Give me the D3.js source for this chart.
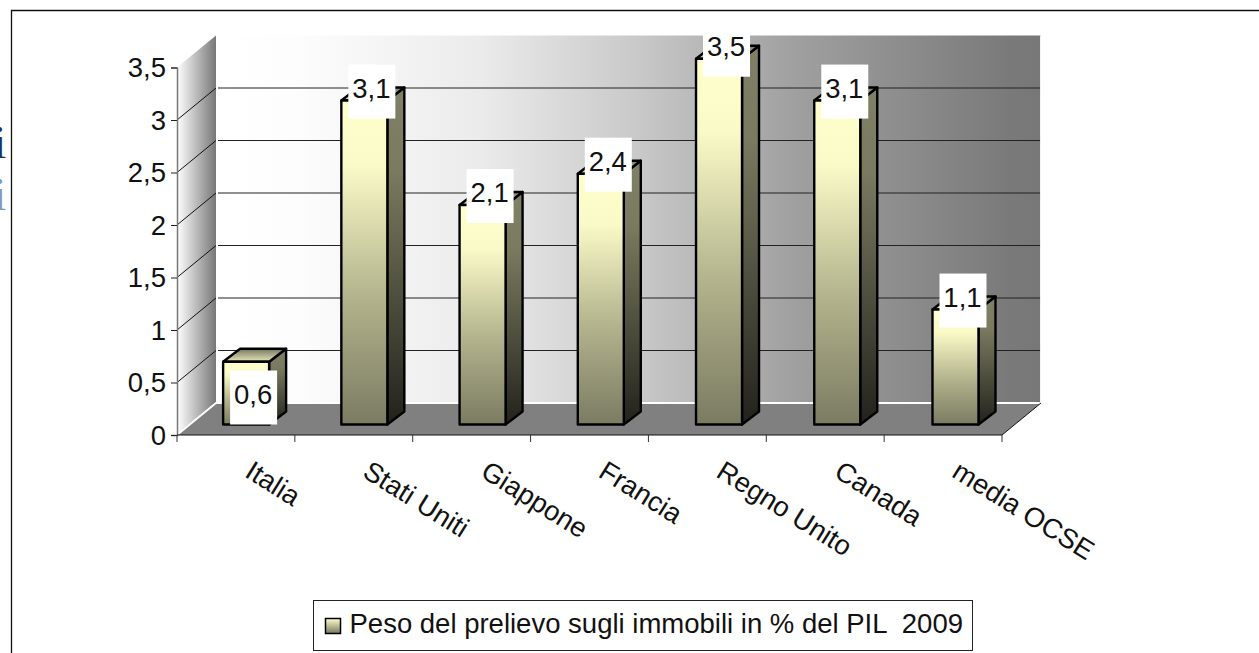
<!DOCTYPE html>
<html>
<head>
<meta charset="utf-8">
<script src="https://cdn.jsdelivr.net/npm/d3@7"></script>
<style>
html, body { margin: 0; padding: 0; background: #fff; overflow: hidden; }
text { font-family: "Liberation Sans", Arial, sans-serif; fill: #111; }
</style>
</head>
<body>
<svg width="1259" height="653" style="display:block"></svg>
<script>
var categories = ["Italia", "Stati Uniti", "Giappone", "Francia", "Regno Unito", "Canada", "media OCSE"];
var values = [0.6, 3.1, 2.1, 2.4, 3.5, 3.1, 1.1];
var yTicks = [0, 0.5, 1, 1.5, 2, 2.5, 3, 3.5];
var legendLabel = "Peso del prelievo sugli immobili in % del PIL  2009";

var svg = d3.select("svg"),
    margin = { top: 67.5, left: 177, bottom: 435, right: 1002 },
    depth = { x: 39, y: 32 },       // wall offset
    barDepth = { x: 17, y: 13 },
    barShift = { y: 10.5 };         // bars stand a bit behind the front edge

var x = d3.scaleBand().domain(categories).range([margin.left, margin.right]),
    xBar = d3.scaleBand().domain(categories).range([margin.left + 10, margin.right + 12.6]),
    y = d3.scaleLinear().domain([0, 3.5]).range([margin.bottom, margin.top]);

var fmt = function (d) { return String(d).replace(".", ","); };

// gradients
var defs = svg.append("defs");
function gradient(id, horizontal, stops) {
    var g = defs.append("linearGradient").attr("id", id)
        .attr("x1", 0).attr("y1", 0)
        .attr("x2", horizontal ? 1 : 0).attr("y2", horizontal ? 0 : 1);
    stops.forEach(function (s) {
        g.append("stop").attr("offset", s[0]).attr("stop-color", s[1]);
    });
}
gradient("wall", true, [[0, "#ffffff"], [0.1, "#fdfdfd"], [0.32, "#ebebeb"], [0.51, "#c9c9c9"], [0.7, "#a0a0a0"], [0.96, "#7a7a7a"], [1, "#777777"]]);
gradient("side", true, [[0, "#ffffff"], [1, "#777777"]]);
gradient("barFront", false, [[0, "#ffffcc"], [0.2, "#fafac8"], [0.6, "#b4b48e"], [1, "#7b7b62"]]);
gradient("barSide", false, [[0, "#808066"], [0.25, "#7a7a60"], [1, "#22221c"]]);
gradient("barTop", false, [[0, "#77775e"], [1, "#e8e8bc"]]);
gradient("swatch", false, [[0, "#ffffcc"], [1, "#77775e"]]);

// outer frame
svg.append("path").attr("d", "M11.5,653V10.5H1259")
    .attr("fill", "none").attr("stroke", "#111").attr("stroke-width", 1.3);

// cut off text from the slide behind
svg.append("text").attr("x", -6.5).attr("y", 158).text("i")
    .style("font-family", "Liberation Serif").style("font-size", "46px").style("fill", "#17365d");
svg.append("text").attr("x", -6.5).attr("y", 210).text("i")
    .style("font-family", "Liberation Serif").style("font-size", "46px").style("fill", "#7f9abc");

// back wall, side wall, floor
var x0 = margin.left, x1 = margin.right, y0 = margin.bottom, yTop = y(3.5);
svg.append("rect")
    .attr("x", x0 + depth.x).attr("y", yTop - depth.y)
    .attr("width", x1 - x0).attr("height", y0 - yTop)
    .attr("fill", "url(#wall)");
svg.append("polygon")
    .attr("points", [[x0, yTop], [x0 + depth.x, yTop - depth.y], [x0 + depth.x, y0 - depth.y], [x0, y0]].join(" "))
    .attr("fill", "url(#side)");
svg.append("polygon")
    .attr("points", [[x0, y0], [x1, y0], [x1 + depth.x, y0 - depth.y], [x0 + depth.x, y0 - depth.y]].join(" "))
    .attr("fill", "#808080");

// grid lines on both walls
var grid = svg.append("g");
yTicks.slice(1, -1).forEach(function (t) {
    grid.append("path")
        .attr("d", "M" + x0 + "," + y(t) + "L" + (x0 + depth.x) + "," + (y(t) - depth.y))
        .attr("fill", "none").attr("stroke", "#111").attr("stroke-width", 1);
    grid.append("line")
        .attr("x1", x0 + depth.x + 2).attr("x2", x1 + depth.x)
        .attr("y1", y(t) - depth.y).attr("y2", y(t) - depth.y)
        .attr("stroke", "#222").attr("stroke-width", 1);
});

// white floor edges
svg.append("path")
    .attr("d", "M" + x0 + "," + y0 + "L" + (x0 + depth.x) + "," + (y0 - depth.y) + "H" + (x1 + depth.x) + "V" + (yTop - depth.y))
    .attr("fill", "none").attr("stroke", "#fff").attr("stroke-width", 1.8);
svg.append("path")
    .attr("d", "M" + x1 + "," + y0 + "L" + (x1 + depth.x) + "," + (y0 - depth.y))
    .attr("fill", "none").attr("stroke", "#111").attr("stroke-width", 1);

// bars
var barW = 46,
    base = margin.bottom - barShift.y,
    h = y(0) - y(1) - 0.5;  // bars are a little shorter per unit than the axis
function barX(d) { return xBar(d) + xBar.bandwidth() / 2 - barW / 2; }
function barTop(d, i) { return base - values[i] * h; }

var bars = svg.selectAll(".bar").data(categories).enter().append("g")
    .attr("class", "bar")
    .attr("stroke", "#000").attr("stroke-width", 2.4).attr("stroke-linejoin", "round");

bars.append("polygon").attr("fill", "url(#barSide)")
    .attr("points", function (d, i) {
        var l = barX(d) + barW, t = barTop(d, i);
        return [[l, t], [l + barDepth.x, t - barDepth.y], [l + barDepth.x, base - barDepth.y], [l, base]].join(" ");
    });
bars.append("polygon").attr("fill", "url(#barTop)")
    .attr("points", function (d, i) {
        var l = barX(d), t = barTop(d, i);
        return [[l, t], [l + barDepth.x, t - barDepth.y], [l + barW + barDepth.x, t - barDepth.y], [l + barW, t]].join(" ");
    });
bars.append("rect").attr("fill", "url(#barFront)")
    .attr("x", barX).attr("y", barTop)
    .attr("width", barW).attr("height", function (d, i) { return base - barTop(d, i); });

// value labels on white boxes, the short bar keeps its label inside
var labels = svg.selectAll(".val").data(categories).enter().append("g").attr("class", "val")
    .attr("transform", function (d, i) {
        var ly = values[i] < 1 ? base - 54 : barTop(d, i) - 36;
        return "translate(" + (barX(d) + 7) + "," + ly + ")";
    });
labels.append("rect").attr("width", 47).attr("height", 54).attr("fill", "#fff");
labels.append("text").attr("x", 23).attr("y", 33)
    .attr("text-anchor", "middle").attr("font-size", 27.5)
    .text(function (d, i) { return fmt(values[i]); });

// axes
var yAxis = svg.append("g")
    .attr("transform", "translate(" + x0 + ",0)")
    .call(d3.axisLeft(y).tickValues(yTicks).tickFormat(fmt).tickSize(6).tickPadding(5));
yAxis.select(".domain").attr("stroke", "#777").attr("stroke-width", 1.5);
yAxis.selectAll("line").attr("stroke", "#222");
yAxis.selectAll("text").attr("font-size", 27.5).attr("font-family", "Liberation Sans").attr("dy", "0.34em");

var xAxis = svg.append("g")
    .attr("transform", "translate(0," + y0 + ")")
    .call(d3.axisBottom(x).tickValues(categories).tickFormat("").tickSize(0));
xAxis.select(".domain").attr("stroke", "#111").attr("d", "M" + x0 + ",0H" + x1);
xAxis.selectAll(".tick").remove();
xAxis.selectAll(".sep").data(d3.range(categories.length + 1)).enter().append("line")
    .attr("class", "sep")
    .attr("x1", function (i) { return x0 + i * x.step(); })
    .attr("x2", function (i) { return x0 + i * x.step(); })
    .attr("y1", 0).attr("y2", 7)
    .attr("stroke", "#333");

// slanted category labels
svg.selectAll(".cat").data(categories).enter().append("text")
    .attr("class", "cat")
    .attr("font-size", 27.5)
    .attr("transform", function (d) {
        return "translate(" + (x(d) + x.bandwidth() / 2 + 7.5) + ",476) rotate(32)";
    })
    .text(function (d) { return d; });

// legend
var legend = svg.append("g").attr("transform", "translate(313.5,600.5)");
legend.append("rect").attr("x", 0).attr("y", 0).attr("width", 659).attr("height", 50)
    .attr("fill", "#fff").attr("stroke", "#222").attr("stroke-width", 1);
legend.append("rect").attr("x", 12).attr("y", 18).attr("width", 15).attr("height", 15)
    .attr("fill", "url(#swatch)").attr("stroke", "#000").attr("stroke-width", 1.5);
legend.append("text").attr("x", 36).attr("y", 32).attr("font-size", 27.5)
    .style("white-space", "pre").text(legendLabel);
</script>
</body>
</html>
